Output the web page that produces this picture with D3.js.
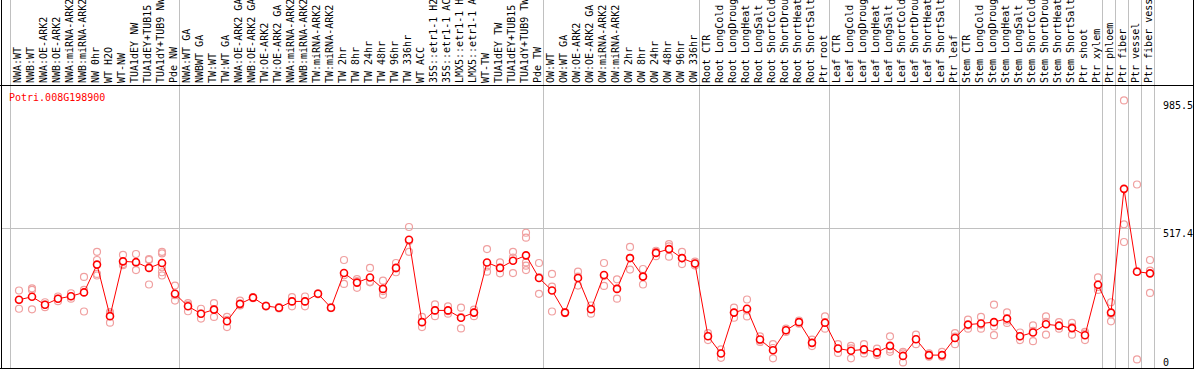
<!DOCTYPE html>
<html>
<head>
<meta charset="utf-8">
<script src="https://cdn.jsdelivr.net/npm/d3@7"></script>
<style>
    body { margin: 0; background: #fff; }
    text { font-family: "DejaVu Sans Mono", monospace; font-size: 10px; }
</style>
</head>
<body>
<div id="graph"></div>
<script>
const geneId = "Potri.008G198900";

const sampleLabels = [
    "NWA:WT", "NWB:WT", "NWA:OE-ARK2", "NWB:OE-ARK2", "NWA:miRNA-ARK2", "NWB:miRNA-ARK2", "NW 0hr", "WT H2O", "WT-NW",
    "TUA1dEY NW", "TUA1dEY+TUB15 NW", "TUA1dY+TUB9 NW", "Pde NW",
    "NWA:WT GA", "NWBWT GA", "TW:WT", "TW:WT GA", "NWA:OE-ARK2 GA", "NWB:OE-ARK2 GA", "TW:OE-ARK2", "TW:OE-ARK2 GA",
    "NWA:miRNA-ARK2 GA", "NWB:miRNA-ARK2 GA", "TW:miRNA-ARK2", "TW:miRNA-ARK2 GA", "TW 2hr", "TW 8hr", "TW 24hr", "TW 48hr",
    "TW 96hr", "TW 336hr", "WT ACC", "35S::etr1-1 H2O", "35S::etr1-1 ACC", "LMX5::etr1-1 H2O", "LMX5::etr1-1 ACC", "WT-TW",
    "TUA1dEY TW", "TUA1dEY+TUB15 TW", "TUA1dY+TUB9 TW", "Pde TW",
    "OW:WT", "OW:WT GA", "OW:OE-ARK2", "OW:OE-ARK2 GA", "OW:miRNA-ARK2", "OW:miRNA-ARK2 GA", "OW 2hr", "OW 8hr", "OW 24hr",
    "OW 48hr", "OW 96hr", "OW 336hr",
    "Root CTR", "Root LongCold", "Root LongDrought", "Root LongHeat", "Root LongSalt", "Root ShortCold", "Root ShortDrought",
    "Root ShortHeat", "Root ShortSalt", "Ptr root",
    "Leaf CTR", "Leaf LongCold", "Leaf LongDrought", "Leaf LongHeat", "Leaf LongSalt", "Leaf ShortCold", "Leaf ShortDrought",
    "Leaf ShortHeat", "Leaf ShortSalt", "Ptr leaf",
    "Stem CTR", "Stem LongCold", "Stem LongDrought", "Stem LongHeat", "Stem LongSalt", "Stem ShortCold", "Stem ShortDrought",
    "Stem ShortHeat", "Stem ShortSalt", "Ptr shoot", "Ptr xylem",
    "Ptr phloem", "Ptr fiber", "Ptr vessel", "Ptr fiber vessel"
];

// index of the first sample of every group (last entry = sample count)
const groupBreaks = [0, 13, 41, 53, 63, 73, 84, 85, 86, 87, 88];

const meanValues = [
    254, 265, 236, 258, 267, 281, 383, 194, 395, 392, 371, 389, 276,
    230, 203, 218, 175, 239, 262, 231, 225, 248, 248, 276, 225, 352, 317, 336, 294, 371, 474, 172, 215, 215, 188, 207,
    391, 371, 397, 417, 334,
    288, 207, 334, 219, 345, 294, 407, 339, 426, 440, 407, 387,
    120, 57, 207, 221, 108, 69, 142, 172, 96, 170,
    75, 67, 72, 61, 85, 48, 109, 51, 51, 114,
    163, 167, 172, 185, 120, 134, 164, 159, 150, 124, 309,
    207, 661, 357, 351
];

const replicateValues = [
    [288, 253, 221], [296, 290, 219], [245, 236, 227], [266, 258, 249], [278, 267, 258], [338, 290, 211],
    [430, 400, 349, 343], [209, 203, 170], [419, 385, 381], [422, 391, 363], [403, 400, 310],
    [430, 424, 373, 355, 343], [306, 271, 251],
    [242, 235, 212], [221, 203, 185], [242, 220, 191], [191, 180, 154], [251, 234, 233], [264, 262, 260],
    [233, 231, 229], [227, 225, 222], [264, 249, 230], [266, 248, 230], [278, 276, 274], [227, 225, 223],
    [400, 344, 312], [330, 323, 298], [371, 320, 318], [324, 286, 272], [389, 369, 355], [521, 470, 430],
    [191, 172, 154], [237, 215, 194], [230, 212, 203], [225, 190, 149], [218, 208, 194], [440, 376, 357],
    [391, 371, 351], [430, 409, 352], [500, 482, 391, 379, 363], [389, 337, 276],
    [349, 302, 211], [209, 207, 205], [357, 339, 306], [233, 221, 203], [389, 341, 305], [329, 295, 258],
    [448, 408, 365], [367, 340, 310], [434, 430, 414], [458, 450, 412], [430, 406, 385], [394, 387, 380],
    [132, 122, 106], [72, 58, 41], [225, 207, 188], [255, 215, 193], [120, 105, 99], [91, 77, 39],
    [148, 142, 136], [178, 172, 166], [108, 96, 84], [193, 170, 148],
    [91, 75, 59], [85, 76, 39], [91, 68, 57], [75, 57, 51], [120, 72, 63], [63, 57, 24],
    [126, 110, 91], [57, 51, 45], [63, 51, 45], [132, 119, 91],
    [181, 160, 148], [191, 162, 148], [236, 156, 124], [208, 178, 169], [134, 120, 106], [160, 140, 102],
    [193, 173, 126], [172, 157, 148], [169, 155, 126], [136, 130, 106], [336, 301, 290],
    [245, 201, 175], [985.5, 531, 466], [677, 359, 35], [400, 361, 279]
];

const yTickLabels = ["985.5", "517.4", "0"];

const width = 1194;
const height = 370;
const headerBottom = 85;
const plotBottom = 369;
const plotRight = 1155;
const gridColor = "#c0c0c0";
const meanColor = "#ff0000";
const repColor = "#f0a0a0";

let maxRep = d3.max(replicateValues.flat());
let yMax = maxRep * 1.05;

let scaleX = d3.scaleLinear()
    .domain([0, sampleLabels.length])
    .range([10.5, 10.5 + 13 * sampleLabels.length]);

let scaleY = d3.scaleLinear()
    .domain([0, yMax])
    .range([plotBottom, headerBottom + 2]);

function pointX(index) {
    return scaleX(index) + 8.5;
}

function setGraph(graphId) {
    let svg = d3.select(`#${ graphId }`)
        .append("svg")
            .attr("id", `${ graphId }-svg`)
            .attr("width", width)
            .attr("height", height);

    setGrid(svg);
    setLabels(svg);
    plotGraph(svg);
    setBorders(svg);
    setYLabels(svg);
}

function setGrid(svg) {
    svg.append("g")
        .selectAll("line")
        .data(groupBreaks)
        .enter()
        .append("line")
            .attr("x1", data => scaleX(data))
            .attr("x2", data => scaleX(data))
            .attr("y1", 0)
            .attr("y2", plotBottom)
            .attr("stroke", gridColor);

    let midY = Math.round(scaleY(yMax / 2)) + 0.5;
    svg.append("line")
        .attr("x1", 1)
        .attr("x2", plotRight + 6)
        .attr("y1", midY)
        .attr("y2", midY)
        .attr("stroke", gridColor);
}

function setLabels(svg) {
    svg.append("g")
        .selectAll("text")
        .data(sampleLabels)
        .enter()
        .append("text")
            .attr("transform", (data, index) => `translate(${ scaleX(index) + 10.5 }, 83) rotate(-90)`)
            .attr("fill", "#000")
            .text(data => data);

    svg.append("text")
        .attr("x", 9)
        .attr("y", 100.5)
        .attr("fill", meanColor)
        .text(geneId);
}

function plotGraph(svg) {
    let reps = [];
    replicateValues.forEach((values, index) => {
        values.forEach(value => reps.push({ index: index, value: value }));
    });

    svg.append("g")
        .selectAll("circle")
        .data(reps)
        .enter()
        .append("circle")
            .attr("cx", data => pointX(data.index))
            .attr("cy", data => scaleY(data.value))
            .attr("r", 3.5)
            .attr("fill", "none")
            .attr("stroke", repColor)
            .attr("stroke-width", 1.2);

    let line = d3.line()
        .x((data, index) => pointX(index))
        .y(data => scaleY(data));

    svg.append("path")
        .datum(meanValues)
        .attr("d", line)
        .attr("fill", "none")
        .attr("stroke", meanColor)
        .attr("stroke-width", 1);

    svg.append("g")
        .selectAll("circle")
        .data(meanValues)
        .enter()
        .append("circle")
            .attr("cx", (data, index) => pointX(index))
            .attr("cy", data => scaleY(data))
            .attr("r", 3.5)
            .attr("fill", "#fff")
            .attr("stroke", meanColor)
            .attr("stroke-width", 1.6);
}

function setBorders(svg) {
    let borders = [
        [1.5, 0, 1.5, plotBottom],
        [0, headerBottom + 0.5, width, headerBottom + 0.5],
        [0, plotBottom - 0.5, width, plotBottom - 0.5],
        [1193.5, 0, 1193.5, plotBottom]
    ];
    svg.append("g")
        .selectAll("line")
        .data(borders)
        .enter()
        .append("line")
            .attr("x1", data => data[0])
            .attr("y1", data => data[1])
            .attr("x2", data => data[2])
            .attr("y2", data => data[3])
            .attr("stroke", "#000");
}

function setYLabels(svg) {
    let tickValues = [maxRep, yMax / 2, 0];
    svg.append("g")
        .selectAll("text")
        .data(tickValues)
        .enter()
        .append("text")
            .attr("x", 1163)
            .attr("y", data => Math.min(scaleY(data) + 9, 366))
            .attr("fill", "#000")
            .text((data, index) => yTickLabels[index]);
}

setGraph("graph");
</script>
</body>
</html>
